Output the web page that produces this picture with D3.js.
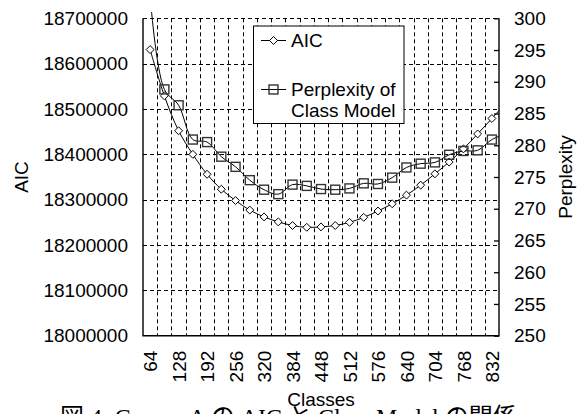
<!DOCTYPE html>
<html>
<head>
<meta charset="utf-8">
<script src="https://cdn.jsdelivr.net/npm/d3@7"></script>
<style>
  body { margin: 0; background: #fff; }
  svg { display: block; }
  text { font-family: "Liberation Sans", Arial, sans-serif; fill: #000; }
</style>
</head>
<body>
<svg id="chart" width="582" height="414"></svg>
<script>
// number of classes (64 .. 832 shown, 864 only reaches the right edge)
const classes = [64, 96, 128, 160, 192, 224, 256, 288, 320, 352, 384, 416, 448,
                 480, 512, 544, 576, 608, 640, 672, 704, 736, 768, 800, 832, 864]
const aic = [18631000, 18529000, 18452000, 18400000, 18356000, 18323000, 18298000,
             18277000, 18262000, 18251000, 18243000, 18239000, 18240000, 18243000,
             18250000, 18261000, 18275000, 18291000, 18310000, 18332000, 18357000,
             18383000, 18412000, 18445000, 18479000, 18514000]
const perplexity = [303.6, 288.8, 286.3, 280.9, 280.5, 278.2, 276.6, 274.5, 273.0,
                    272.3, 273.8, 273.6, 273.1, 273.0, 273.2, 274.0, 273.9, 274.9,
                    276.5, 277.1, 277.3, 278.5, 279.1, 279.2, 280.9, 281.8]
const xLabels = [64, 128, 192, 256, 320, 384, 448, 512, 576, 640, 704, 768, 832]
const xGrid = [80, 112, 144, 176, 208, 240, 272, 304, 336, 368, 400, 432, 464,
               496, 528, 560, 592, 624, 656, 688, 720, 752, 784, 816]
const aicTicks = [18000000, 18100000, 18200000, 18300000, 18400000, 18500000, 18600000, 18700000]
const pTicks = [250, 255, 260, 265, 270, 275, 280, 285, 290, 295, 300]

const pLeft = 143, pRight = 499, pTop = 18.3, pBottom = 335.7

const svg = d3.select('#chart')

const x = d3.scaleLinear().domain([48, 848]).range([pLeft, pRight])
const yL = d3.scaleLinear().domain([18000000, 18700000]).range([pBottom, pTop])
const yR = d3.scaleLinear().domain([250, 300]).range([pBottom, pTop])

svg.append('defs').append('clipPath').attr('id', 'plot')
    .append('rect').attr('x', pLeft).attr('y', 12).attr('width', pRight - pLeft).attr('height', pBottom - 12)

// grid
const grid = svg.append('g').attr('stroke', '#000').attr('stroke-width', 1).attr('stroke-dasharray', '4,3')
grid.selectAll('.vg').data(xGrid).enter().append('line')
    .attr('x1', d => Math.round(x(d)) + 0.5).attr('x2', d => Math.round(x(d)) + 0.5)
    .attr('y1', pTop).attr('y2', pBottom)
grid.selectAll('.hg').data(aicTicks.slice(1)).enter().append('line')
    .attr('x1', pLeft).attr('x2', pRight)
    .attr('y1', d => Math.round(yL(d)) + 0.5).attr('y2', d => Math.round(yL(d)) + 0.5)

// axes
const axL = svg.append('g').attr('transform', `translate(${pLeft},0)`)
    .call(d3.axisLeft(yL).tickValues(aicTicks).tickSize(0).tickPadding(15).tickFormat(d3.format('d')))
const axR = svg.append('g').attr('transform', `translate(${pRight},0)`)
    .call(d3.axisRight(yR).tickValues(pTicks).tickSize(-5).tickPadding(15))
const axB = svg.append('g').attr('transform', `translate(0,${pBottom})`)
    .call(d3.axisBottom(x).tickValues(xLabels).tickSize(0).tickPadding(0))

;[axL, axR, axB].forEach(a => {
    a.select('.domain').remove()
    a.selectAll('text').style('font-size', '19px').attr('fill', '#000')
    a.selectAll('line').attr('stroke', '#000').attr('stroke-width', 1.3)
})
axB.selectAll('text')
    .attr('transform', 'rotate(-90)')
    .attr('text-anchor', 'end')
    .attr('x', -15).attr('y', 0).attr('dy', '0.35em')

svg.append('path')
    .attr('d', `M${pLeft},${pTop}V${pBottom}H${pRight}V${pTop}`)
    .attr('fill', 'none').attr('stroke', '#000').attr('stroke-width', 1.4)

// series
const plot = svg.append('g').attr('clip-path', 'url(#plot)')
const lineA = d3.line().x((d, i) => x(classes[i])).y(d => yL(d)).curve(d3.curveCatmullRom.alpha(0.5))
const lineP = d3.line().x((d, i) => x(classes[i])).y(d => yR(d)).curve(d3.curveCatmullRom.alpha(0.5))

plot.append('path').attr('d', lineA(aic)).attr('fill', 'none').attr('stroke', '#000').attr('stroke-width', 1)
plot.append('path').attr('d', lineP(perplexity)).attr('fill', 'none').attr('stroke', '#000').attr('stroke-width', 1)

const diamond = d3.symbol().type(d3.symbolDiamond2).size(40)
plot.selectAll('.dia').data(aic).enter().append('path')
    .attr('d', diamond)
    .attr('transform', (d, i) => `translate(${x(classes[i])},${yL(d)})`)
    .attr('fill', '#fff').attr('stroke', '#000').attr('stroke-width', 1)

plot.selectAll('.sq').data(perplexity).enter().append('rect')
    .attr('x', (d, i) => x(classes[i]) - 4.5).attr('y', d => yR(d) - 4.5)
    .attr('width', 9).attr('height', 9)
    .attr('fill', 'none').attr('stroke', '#333').attr('stroke-width', 1.4)

// axis titles
svg.append('text').attr('transform', `translate(28,${(pTop + pBottom) / 2}) rotate(-90)`)
    .attr('text-anchor', 'middle').style('font-size', '19px').text('AIC')
svg.append('text').attr('transform', `translate(572,${(pTop + pBottom) / 2}) rotate(-90)`)
    .attr('text-anchor', 'middle').style('font-size', '19px').text('Perplexity')
svg.append('text').attr('x', (pLeft + pRight) / 2).attr('y', 406)
    .attr('text-anchor', 'middle').style('font-size', '19px').text('Classes')

// legend
const lg = svg.append('g')
lg.append('rect').attr('x', 253.5).attr('y', 26).attr('width', 150.5).attr('height', 97.5)
    .attr('fill', '#fff').attr('stroke', '#000').attr('stroke-width', 1)
lg.append('line').attr('x1', 261).attr('x2', 286).attr('y1', 40.5).attr('y2', 40.5).attr('stroke', '#000')
lg.append('path').attr('d', diamond).attr('transform', 'translate(273.5,40.5)')
    .attr('fill', '#fff').attr('stroke', '#000')
lg.append('line').attr('x1', 261).attr('x2', 286).attr('y1', 89.5).attr('y2', 89.5).attr('stroke', '#000')
lg.append('rect').attr('x', 269).attr('y', 85).attr('width', 9).attr('height', 9)
    .attr('fill', 'none').attr('stroke', '#333').attr('stroke-width', 1.4)
lg.append('text').attr('x', 291).attr('y', 47).style('font-size', '19px').text('AIC')
lg.append('text').attr('x', 291).attr('y', 95.5).style('font-size', '19px').text('Perplexity of')
lg.append('text').attr('x', 291).attr('y', 117).style('font-size', '19px').text('Class Model')

// caption (cut off by the bottom edge)
svg.append('text').attr('x', 60).attr('y', 425)
    .style('font-family', '"Liberation Serif", "Noto Sans CJK JP", serif')
    .style('font-size', '24px')
    .text('図 4: Corpus A の AIC と Class Model の関係')
</script>
</body>
</html>
